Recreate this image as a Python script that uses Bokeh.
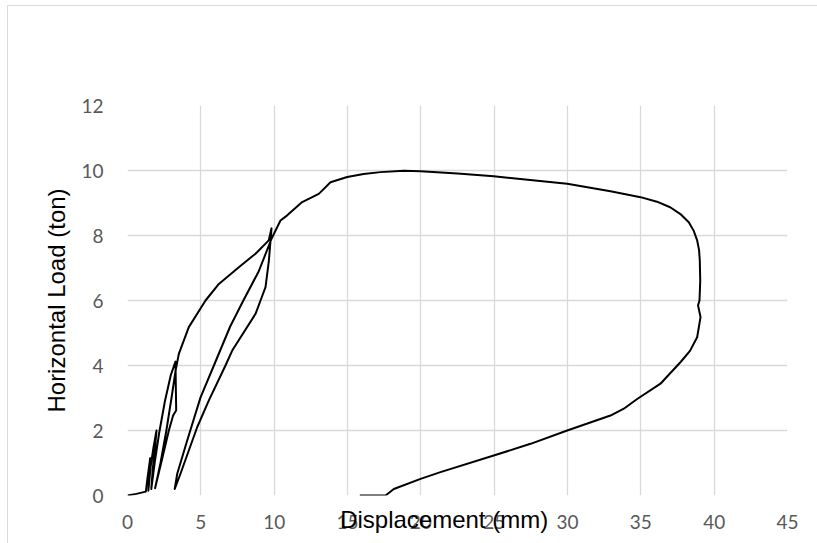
from bokeh.plotting import figure
from bokeh.models import Range1d, FixedTicker
from bokeh.embed import file_html
from bokeh.resources import INLINE

# Hysteresis trace: displacement (mm) and horizontal load (ton), in drawing order
displacement = [0, 0.6, 1.25, 1.38, 1.55, 1.48, 1.42, 1.58, 1.78, 1.98, 1.88, 1.72, 1.62,
                1.85, 2.15, 2.55, 2.95, 3.27, 3.30, 3.32, 3.11, 2.82, 2.40, 1.88,
                2.25, 2.65, 3.0, 3.3, 3.39,
                3.5, 4.18, 5.32, 6.23, 7.59, 8.73, 9.63, 9.82,
                9.64, 9.41, 9.07, 8.73, 7.14, 6.68, 5.54, 4.75, 3.61, 3.22,
                3.39, 4.07, 4.98, 5.89, 7.0, 7.9, 8.95, 9.82,
                10.43, 10.89, 11.91, 13.04, 13.27, 13.84, 14.98, 16.1, 17.25, 18.84, 19.98,
                22.5, 24.97, 29.98, 32.93, 34.98, 36.1, 37.0, 37.75, 38.27, 38.6, 38.84,
                38.97, 39.02, 39.05, 39.0, 38.9,
                39.07, 38.84, 38.35, 37.7, 37.0, 36.34, 34.75, 33.84, 32.93, 29.98, 27.48, 24.97,
                21.34, 19.98, 18.16, 17.59, 15.84]
load = [0, 0.05, 0.12, 0.6, 1.15, 0.6, 0.15, 0.9, 1.5, 2.0, 1.5, 0.8, 0.2,
        1.0, 1.9, 2.9, 3.7, 4.12, 3.2, 2.62, 2.46, 2.0, 1.2, 0.22,
        1.0, 2.0, 3.0, 3.9, 4.1,
        4.36, 5.18, 6.0, 6.51, 7.02, 7.44, 7.85, 8.22,
        7.23, 6.41, 6.0, 5.59, 4.46, 4.0, 2.92, 2.1, 0.67, 0.2,
        0.67, 1.69, 3.02, 4.0, 5.2, 6.0, 6.9, 7.9,
        8.46, 8.62, 9.03, 9.28, 9.38, 9.64, 9.8, 9.89, 9.95, 9.99, 9.98,
        9.91, 9.82, 9.59, 9.36, 9.18, 9.04, 8.87, 8.64, 8.41, 8.15, 7.85,
        7.55, 7.23, 6.6, 6.0, 5.85,
        5.49, 4.87, 4.45, 4.1, 3.76, 3.44, 2.97, 2.67, 2.46, 2.0, 1.59, 1.23,
        0.72, 0.51, 0.2, 0.0, 0.0]

x_ticks = [0, 5, 10, 15, 20, 25, 30, 35, 40, 45]
y_ticks = [0, 2, 4, 6, 8, 10, 12]
x_title = "Displacement (mm)"
y_title = "Horizontal Load (ton)"

p = figure(width=809, height=537, output_backend="svg", toolbar_location=None,
           x_range=Range1d(0, 45), y_range=Range1d(0, 12),
           min_border_left=119, min_border_right=30, min_border_top=99, min_border_bottom=48)
p.outline_line_color = None
p.background_fill_color = "white"
p.border_fill_color = "white"

for ax in (p.xaxis[0], p.yaxis[0]):
    ax.axis_line_color = None
    ax.major_tick_line_color = None
    ax.minor_tick_line_color = None
    ax.major_tick_out = 0
    ax.major_tick_in = 0
    ax.major_label_text_font = "Lato"
    ax.major_label_text_font_size = "19px"
    ax.major_label_text_color = "#595959"
    ax.axis_label_text_font = "Liberation Sans"
    ax.axis_label_text_font_size = "24px"
    ax.axis_label_text_font_style = "normal"
    ax.axis_label_text_color = "black"
p.xaxis.ticker = FixedTicker(ticks=x_ticks)
p.yaxis.ticker = FixedTicker(ticks=y_ticks)
p.xaxis.major_label_standoff = 19
p.yaxis.major_label_standoff = 24
p.xaxis.axis_label = x_title + "\u00a0\u00a0\u00a0\u00a0"
p.xaxis.axis_label_standoff = -26
p.yaxis.axis_label = y_title
p.yaxis.axis_label_standoff = 8

p.xgrid.ticker = FixedTicker(ticks=x_ticks)
p.ygrid.ticker = FixedTicker(ticks=y_ticks)
p.grid.grid_line_color = "#d9d9d9"
p.grid.grid_line_width = 1.3

p.line(displacement, load, line_color="black", line_width=2, line_join="round")

p.styles = {"outline": "1px solid #d9d9d9", "margin-left": "8px", "margin-top": "6px"}

open("out.html", "w").write(file_html(p, INLINE))
